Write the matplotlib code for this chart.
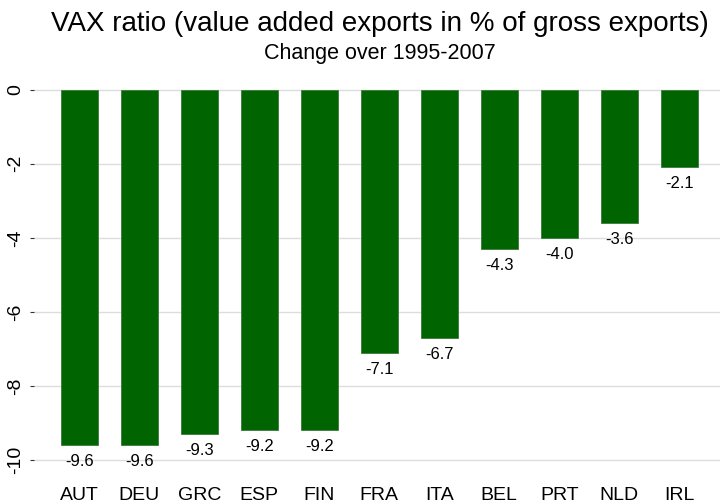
import numpy as np
import matplotlib.pyplot as plt

# Daten
countries = ["AUT", "DEU", "GRC", "ESP", "FIN", "FRA", "ITA", "BEL", "PRT", "NLD", "IRL"]
change = [-9.6, -9.6, -9.3, -9.2, -9.2, -7.1, -6.7, -4.3, -4.0, -3.6, -2.1]
yticks = [0, -2, -4, -6, -8, -10]

plt.rcParams['font.family'] = ['Liberation Sans', 'DejaVu Sans']

fig = plt.figure(figsize=(7.2, 5.04), dpi=100)
ax = fig.add_axes([0.047, 0.058, 0.953, 0.792])

x = np.arange(len(countries))
ax.bar(x, change, width=0.62, color='#006400', edgecolor='#3a7a3a', linewidth=0.6, zorder=3)

# Werte unter die Balken
for xi, v in zip(x, change):
    ax.annotate(f"{v:.1f}", (xi, v), xytext=(0, -6.5), textcoords='offset points',
                ha='center', va='top', fontsize=12, zorder=4)

ax.set_xlim(-0.76, 10.68)
ax.set_ylim(-10.4, 0.38)
ax.set_xticks(x)
ax.set_xticklabels(countries, fontsize=14)
ax.set_yticks(yticks)
ax.set_yticklabels([str(t) for t in yticks], rotation=90, va='center', fontsize=14)

ax.grid(axis='y', color='#dddddd', linewidth=1, zorder=0)
ax.tick_params(axis='x', length=0, pad=9)
ax.tick_params(axis='y', length=3, width=0.8, color='#333333', pad=4)
for s in ax.spines.values():
    s.set_visible(False)

fig.text(0.528, 0.952, "VAX ratio (value added exports in % of gross exports)",
         ha='center', va='center', fontsize=20)
fig.text(0.528, 0.893, "Change over 1995-2007", ha='center', va='center', fontsize=15.5)

fig.savefig("out.png", dpi=100)
